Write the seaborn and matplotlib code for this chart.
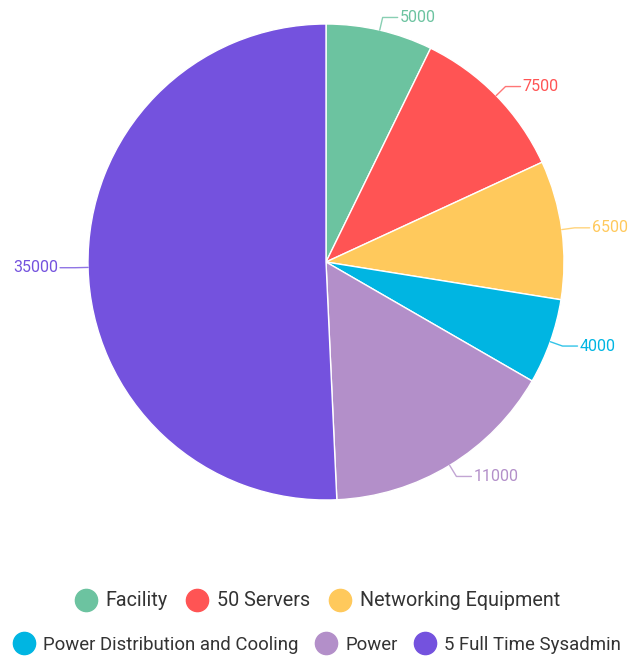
import numpy as np
import matplotlib
matplotlib.use("Agg")
import matplotlib.pyplot as plt
import seaborn as sns
from matplotlib.lines import Line2D

# Chart data
categories = ["Facility", "50 Servers", "Networking Equipment",
              "Power Distribution and Cooling", "Power", "5 Full Time Sysadmin"]
values = [5000, 7500, 6500, 4000, 11000, 35000]
colors = ["#6CC3A0", "#FF5454", "#FFC95C", "#00B5E2", "#B38FC9", "#7452DE"]

sns.set_theme(style="white")
plt.rcParams['font.family'] = ['Roboto', 'DejaVu Sans']

W, H = 634, 657
fig = plt.figure(figsize=(W / 100, H / 100), dpi=100)
ax = fig.add_axes([0, 0, 1, 1])

cx, cy, r = 326, H - 262, 238
wedges, _ = ax.pie(values, colors=colors, startangle=90, counterclock=False,
                   center=(cx, cy), radius=r,
                   wedgeprops=dict(edgecolor='white', linewidth=1))
ax.set_xlim(0, W)
ax.set_ylim(0, H)
ax.set_aspect('equal')
ax.axis('off')

# value labels with leader lines
total = sum(values)
cum = 0
for v, c in zip(values, colors):
    mid = (cum + v / 2) / total * 2 * np.pi
    cum += v
    dx, dy = np.sin(mid), np.cos(mid)
    x0, y0 = cx + r * dx, cy + r * dy
    x1, y1 = cx + (r + 13) * dx, cy + (r + 13) * dy
    side = 1 if dx >= 0 else -1
    x2 = x1 + side * 15
    ax.plot([x0, x1, x2], [y0, y1, y1], color=c, lw=1, alpha=0.8)
    ax.text(x2 + side * 2, y1, f"{v}", color=c, fontsize=11.5,
            ha='left' if side > 0 else 'right', va='center')

# legend in two centred rows
handles = [Line2D([0], [0], marker='o', linestyle='', markersize=16,
                  markerfacecolor=c, markeredgecolor=c) for c in colors]
rows = [(0, 3, 601, 14.2), (3, 6, 645, 13.4)]
for a, b, ypix, fs in rows:
    leg = fig.legend(handles[a:b], categories[a:b], loc='center',
                     bbox_to_anchor=(0.5, 1 - ypix / H), ncol=3, frameon=False,
                     fontsize=fs, handletextpad=0.4, columnspacing=0.9,
                     handlelength=1.2, borderaxespad=0)
    for t in leg.get_texts():
        t.set_color('#333333')

fig.savefig("out.png", dpi=100)
